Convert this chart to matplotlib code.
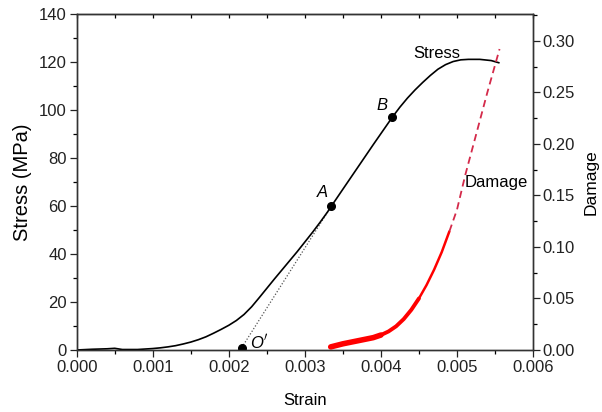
import matplotlib.pyplot as plt
import numpy as np
from matplotlib.ticker import MultipleLocator, FormatStrFormatter

plt.rcParams['font.family'] = ['Liberation Sans', 'DejaVu Sans']

# stress-strain curve
strain = [0.0, 0.0002, 0.0004, 0.0005, 0.0006, 0.0008, 0.0010, 0.0011, 0.0012,
          0.0013, 0.0014, 0.0015, 0.0016, 0.0017, 0.0018, 0.0019, 0.0020, 0.0021,
          0.0022, 0.0023, 0.0024, 0.0025, 0.0026, 0.0027, 0.0028, 0.0029, 0.0030,
          0.0031, 0.0032, 0.0033, 0.00335, 0.0035, 0.0037, 0.0039, 0.00415,
          0.00425, 0.00435, 0.00445, 0.00455, 0.00465, 0.00475, 0.00485, 0.00495,
          0.00505, 0.00515, 0.00530, 0.00545, 0.00555]
stress = [0.0, 0.3, 0.5, 0.7, 0.2, 0.2, 0.6, 0.9, 1.3,
          1.8, 2.5, 3.3, 4.3, 5.5, 7.0, 8.6, 10.3, 12.3,
          14.8, 18.0, 21.8, 25.7, 29.6, 33.4, 37.2, 41.0, 45.0,
          49.0, 53.2, 57.6, 60.0, 67.0, 76.3, 85.6, 97.0,
          101.2, 105.0, 108.4, 111.5, 114.4, 117.0, 118.9, 120.2,
          120.9, 121.1, 121.1, 120.6, 119.7]

# damage curve: measured part (noisy band) and dashed extension
dmg_strain = [0.00334, 0.0035, 0.0037, 0.0039, 0.0040, 0.0041, 0.0042, 0.0043,
              0.0044, 0.0045, 0.0046, 0.0047, 0.0048, 0.0049]
damage = [0.003, 0.006, 0.009, 0.012, 0.0145, 0.018, 0.023, 0.030,
          0.039, 0.050, 0.063, 0.078, 0.095, 0.115]
dmg_ext_strain = [0.0049, 0.0050, 0.00511, 0.00523, 0.0054, 0.00556]
damage_ext = [0.115, 0.136, 0.170, 0.203, 0.250, 0.292]

# marked points O', A, B and the dotted tangent O'-A
pts_strain = [0.00217, 0.00335, 0.00415]
pts_stress = [1.0, 60.0, 97.0]
tangent_strain = [0.00217, 0.00335]
tangent_stress = [1.0, 60.0]

fig = plt.figure(figsize=(6.02, 4.12), dpi=100)
ax = fig.add_axes([0.1274, 0.1505, 0.758, 0.8155])
ax2 = ax.twinx()

ax.plot(strain, stress, color='black', linewidth=1.2, zorder=3)
ax.plot(tangent_strain, tangent_stress, color='#555555', linewidth=0.9,
        linestyle=(0, (1, 1.5)), zorder=2)
ax.plot(pts_strain, pts_stress, 'o', color='black', markersize=5.5, zorder=4)

ax2.plot(dmg_strain[:5], damage[:5], color='red', linewidth=4.0,
         solid_capstyle='round')
ax2.plot(dmg_strain[4:10], damage[4:10], color='red', linewidth=2.8,
         solid_capstyle='round')
ax2.plot(dmg_strain[9:], damage[9:], color='red', linewidth=1.8,
         solid_capstyle='round')
ax2.plot(dmg_ext_strain, damage_ext, color='#d42a4a', linewidth=1.3,
         linestyle=(0, (4, 2.5)))

fs = 12
ax.text(0.00474, 123.5, 'Stress', fontsize=fs, ha='center', va='center')
ax.text(0.00323, 65.5, 'A', fontsize=fs, style='italic', ha='center', va='center')
ax.text(0.00402, 102.0, 'B', fontsize=fs, style='italic', ha='center', va='center')
ax.text(0.00240, 3.5, "O$'$", fontsize=fs, style='italic', ha='center', va='center')
ax2.text(0.00510, 0.163, 'Damage', fontsize=fs, ha='left', va='center')

ax.set_xlim(0, 0.006)
ax.set_ylim(0, 140)
ax2.set_ylim(0, 0.326)

ax.xaxis.set_major_locator(MultipleLocator(0.001))
ax.xaxis.set_minor_locator(MultipleLocator(0.0005))
ax.xaxis.set_major_formatter(FormatStrFormatter('%.3f'))
ax.yaxis.set_major_locator(MultipleLocator(20))
ax.yaxis.set_minor_locator(MultipleLocator(10))
ax2.yaxis.set_major_locator(MultipleLocator(0.05))
ax2.yaxis.set_minor_locator(MultipleLocator(0.025))
ax2.yaxis.set_major_formatter(FormatStrFormatter('%.2f'))

for a in (ax, ax2):
    a.tick_params(which='major', direction='out', length=5, width=0.9,
                  labelsize=fs, colors='#222222', pad=2)
    a.tick_params(which='minor', direction='out', length=3, width=0.9)
    for s in a.spines.values():
        s.set_linewidth(1.0)
        s.set_color('#333333')

top = ax.secondary_xaxis('top')
top.xaxis.set_major_locator(MultipleLocator(0.001))
top.xaxis.set_minor_locator(MultipleLocator(0.0005))
top.tick_params(which='both', direction='in', length=3, width=0.9, labeltop=False)

ax.set_xlabel('Strain', fontsize=fs, labelpad=13)
ax.set_ylabel('Stress (MPa)', fontsize=14.5, labelpad=5)
ax2.set_ylabel('Damage', fontsize=12.5, labelpad=6)

fig.savefig('out.png', dpi=100)
